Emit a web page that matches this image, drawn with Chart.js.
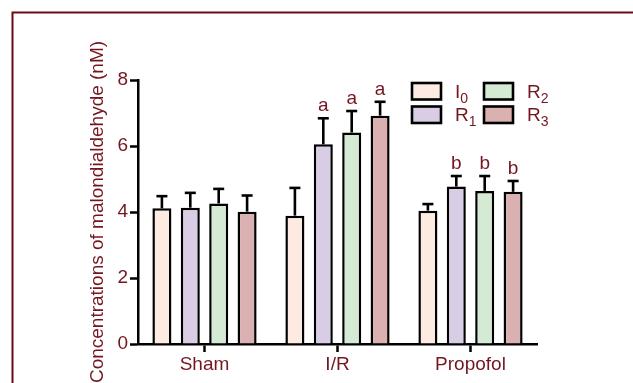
<!DOCTYPE html>
<html>
<head>
<meta charset="utf-8">
<script src="https://cdn.jsdelivr.net/npm/chart.js@4/dist/chart.umd.min.js"></script>
<style>
  html, body { margin: 0; padding: 0; background: #fff; }
  #wrap { width: 633px; height: 383px; position: relative; }
</style>
</head>
<body>
<div id="wrap"><canvas id="c" width="633" height="383"></canvas></div>
<script>
// Groups and tick labels
const categories = ['Sham', 'I/R', 'Propofol'];
const yTicks = [0, 2, 4, 6, 8];

// Series: mean MDA concentration (nM) and SD for each time point
const i0Values = [4.11, 3.89, 4.04];
const i0Err    = [0.37, 0.84, 0.20];
const r1Values = [4.13, 6.05, 4.77];
const r1Err    = [0.45, 0.79, 0.32];
const r2Values = [4.26, 6.41, 4.64];
const r2Err    = [0.44, 0.65, 0.45];
const r3Values = [4.01, 6.92, 4.61];
const r3Err    = [0.49, 0.42, 0.33];

// Significance marks above bars
const i0Sig = ['', '', ''];
const r1Sig = ['', 'a', 'b'];
const r2Sig = ['', 'a', 'b'];
const r3Sig = ['', 'a', 'b'];

// Legend label parts: main letter + subscript
const seriesNames = [['I', '0'], ['R', '1'], ['R', '2'], ['R', '3']];

const TEXT = '#731620';
const FRAME = '#6a0b15';
const FONT = '"Liberation Sans", Arial, sans-serif';
const fills = ['#fdebe2', '#d9cde6', '#d5ead3', '#dbb0b0'];

function ds(i, data, err, sig) {
  return {
    label: seriesNames[i].join(''),
    data: data,
    errors: err,
    sig: sig,
    backgroundColor: fills[i],
    borderColor: '#000',
    borderWidth: 2.5,
    borderSkipped: 'start',
    categoryPercentage: 0.854,
    barPercentage: 0.67
  };
}

const errorBars = {
  id: 'errorBars',
  afterDatasetsDraw(chart) {
    const ctx = chart.ctx;
    const y = chart.scales.y;
    ctx.save();
    chart.data.datasets.forEach((d, di) => {
      const meta = chart.getDatasetMeta(di);
      meta.data.forEach((bar, i) => {
        const top = y.getPixelForValue(d.data[i] + d.errors[i]);
        ctx.strokeStyle = '#000';
        ctx.lineWidth = 2.6;
        ctx.beginPath();
        ctx.moveTo(bar.x, bar.y);
        ctx.lineTo(bar.x, top);
        ctx.stroke();
        ctx.beginPath();
        ctx.moveTo(bar.x - 5.5, top);
        ctx.lineTo(bar.x + 5.5, top);
        ctx.stroke();
        if (d.sig[i]) {
          ctx.fillStyle = TEXT;
          ctx.font = '19px ' + FONT;
          ctx.textAlign = 'center';
          ctx.textBaseline = 'alphabetic';
          ctx.fillText(d.sig[i], bar.x, top - 7);
        }
      });
    });
    ctx.restore();
  }
};

const decor = {
  id: 'decor',
  beforeDraw(chart) {
    const ctx = chart.ctx;
    ctx.save();
    ctx.fillStyle = '#fff';
    ctx.fillRect(0, 0, chart.width, chart.height);
    ctx.restore();
  },
  afterDraw(chart) {
    const ctx = chart.ctx;
    ctx.save();
    // outer frame
    ctx.strokeStyle = FRAME;
    ctx.lineWidth = 2;
    ctx.beginPath();
    ctx.moveTo(12.5, 400);
    ctx.lineTo(12.5, 12.5);
    ctx.lineTo(650, 12.5);
    ctx.stroke();

    // legend, two columns
    const boxW = 29, boxH = 16.5;
    const colX = [412, 484];
    const rowY = [83, 106.5];
    chart.data.datasets.forEach((d, i) => {
      const col = i < 2 ? 0 : 1;
      const row = i % 2;
      const bx = colX[col], by = rowY[row];
      ctx.fillStyle = d.backgroundColor;
      ctx.fillRect(bx, by, boxW, boxH);
      ctx.strokeStyle = '#000';
      ctx.lineWidth = 2.6;
      ctx.strokeRect(bx, by, boxW, boxH);
      const tx = bx + boxW + 14;
      const base = by + 14.5;
      ctx.fillStyle = TEXT;
      ctx.textAlign = 'left';
      ctx.textBaseline = 'alphabetic';
      ctx.font = '19px ' + FONT;
      ctx.fillText(seriesNames[i][0], tx, base);
      const w = ctx.measureText(seriesNames[i][0]).width;
      ctx.font = '14px ' + FONT;
      ctx.fillText(seriesNames[i][1], tx + w, base + 5);
    });
    ctx.restore();
  }
};

new Chart(document.getElementById('c'), {
  type: 'bar',
  data: {
    labels: categories,
    datasets: [
      ds(0, i0Values, i0Err, i0Sig),
      ds(1, r1Values, r1Err, r1Sig),
      ds(2, r2Values, r2Err, r2Sig),
      ds(3, r3Values, r3Err, r3Sig)
    ]
  },
  options: {
    responsive: false,
    animation: false,
    layout: { padding: { left: 82, top: 80, right: 96, bottom: 0 } },
    plugins: { legend: { display: false }, tooltip: { enabled: false } },
    scales: {
      x: {
        grid: { display: true, drawOnChartArea: false, offset: false, tickLength: 8, tickWidth: 2.5, tickColor: '#000' },
        border: { display: true, color: '#000', width: 2.5 },
        ticks: { color: TEXT, font: { family: FONT, size: 19 }, padding: 1 },
        afterFit(s) { s.height = 39; }
      },
      y: {
        min: 0, max: 8,
        afterBuildTicks(s) { s.ticks = yTicks.map(v => ({ value: v })); },
        grid: { display: true, drawOnChartArea: false, tickLength: 8, tickWidth: 2.5, tickColor: '#000' },
        border: { display: true, color: '#000', width: 2.5 },
        ticks: { color: TEXT, font: { family: FONT, size: 19 }, padding: 2 },
        title: {
          display: true,
          text: 'Concentrations of malondialdehyde (nM)',
          color: TEXT,
          font: { family: FONT, size: 19 },
          padding: { top: 4, bottom: 4 }
        },
        afterFit(s) { s.width = 56; }
      }
    }
  },
  plugins: [decor, errorBars]
});
</script>
</body>
</html>
